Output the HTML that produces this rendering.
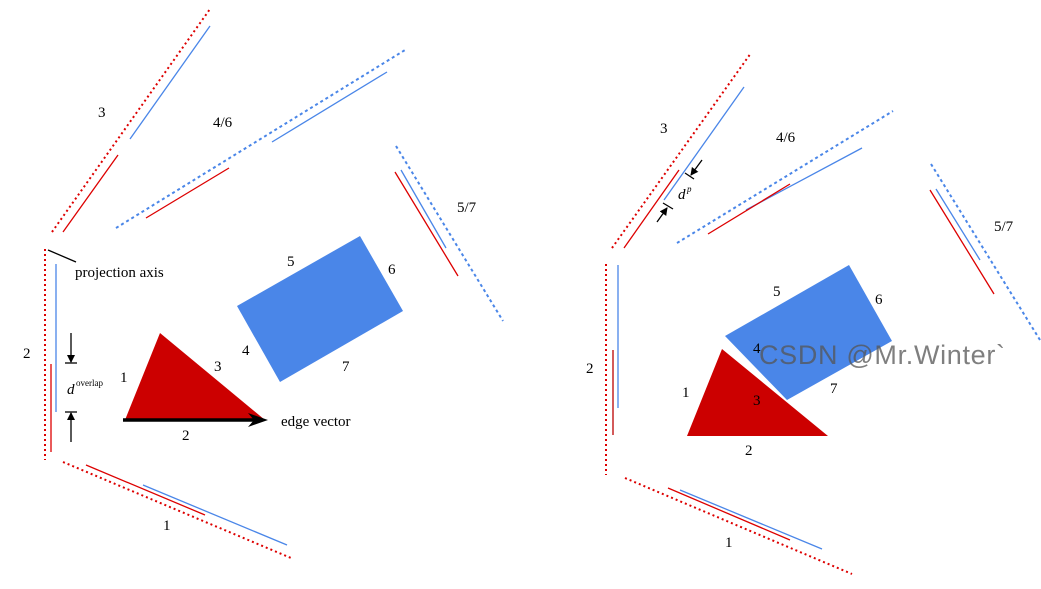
<!DOCTYPE html>
<html><head><style>
html,body{margin:0;padding:0;background:#fff;}
svg{display:block;}
text{font-family:"Liberation Serif",serif;font-size:15px;fill:#000;}
</style></head><body>
<svg width="1041" height="589" viewBox="0 0 1041 589" xmlns="http://www.w3.org/2000/svg">
<defs>
<marker id="ah" markerWidth="8" markerHeight="14" refX="7" refY="4" orient="auto" markerUnits="userSpaceOnUse"><path d="M0,0 L8,4 L0,8 Z" fill="#000"/></marker>
</defs>
<g fill="none" stroke-width="1.3">
<line x1="52" y1="232" x2="210" y2="9" stroke="#d00" stroke-width="2" stroke-dasharray="2,3"/>
<line x1="130" y1="139" x2="210" y2="26" stroke="#4a86e8"/>
<line x1="63" y1="232" x2="118" y2="155" stroke="#d00"/>
<line x1="116" y1="228" x2="405" y2="50" stroke="#4a86e8" stroke-width="2" stroke-dasharray="3,3"/>
<line x1="272" y1="142" x2="387" y2="72" stroke="#4a86e8"/>
<line x1="146" y1="218" x2="229" y2="168" stroke="#d00"/>
<line x1="396" y1="146" x2="503" y2="321" stroke="#4a86e8" stroke-width="2" stroke-dasharray="3,3"/>
<line x1="401" y1="170" x2="446" y2="248" stroke="#4a86e8"/>
<line x1="395" y1="172" x2="458" y2="276" stroke="#d00"/>
<line x1="45" y1="249" x2="45" y2="460" stroke="#d00" stroke-width="2" stroke-dasharray="2,3"/>
<line x1="56" y1="264" x2="56" y2="412" stroke="#4a86e8"/>
<line x1="51" y1="364" x2="51" y2="452" stroke="#d00"/>
<line x1="63" y1="462" x2="291" y2="558" stroke="#d00" stroke-width="2" stroke-dasharray="2,3"/>
<line x1="86" y1="465" x2="205" y2="515" stroke="#d00"/>
<line x1="143" y1="485" x2="287" y2="545" stroke="#4a86e8"/>
<line x1="48" y1="250" x2="76" y2="262" stroke="#000"/>
<line x1="71" y1="333" x2="71" y2="362" stroke="#000" marker-end="url(#ah)"/>
<line x1="65" y1="363" x2="77" y2="363" stroke="#000"/>
<line x1="71" y1="442" x2="71" y2="413" stroke="#000" marker-end="url(#ah)"/>
<line x1="65" y1="412" x2="77" y2="412" stroke="#000"/>
</g>
<polygon points="237,306 360,236 403,311 280,382" fill="#4a86e8"/>
<polygon points="125,420 160,333 265,420" fill="#cc0000"/>
<line x1="123" y1="420" x2="255" y2="420" stroke="#000" stroke-width="3.5"/>
<path d="M248,413 L268,420 L248,427 L254,420 Z" fill="#000"/>
<text x="98" y="117">3</text>
<text x="213" y="127">4/6</text>
<text x="457" y="212">5/7</text>
<text x="23" y="358">2</text>
<text x="163" y="530">1</text>
<text x="287" y="266">5</text>
<text x="388" y="274">6</text>
<text x="242" y="355">4</text>
<text x="342" y="371">7</text>
<text x="120" y="382">1</text>
<text x="214" y="371">3</text>
<text x="182" y="440">2</text>
<text x="281" y="426">edge vector</text>
<text x="75" y="277">projection axis</text>
<text x="67" y="394" font-style="italic">d</text><text x="76" y="386" style="font-size:9px">overlap</text>
<g fill="none" stroke-width="1.3">
<line x1="612" y1="248" x2="751" y2="53" stroke="#d00" stroke-width="2" stroke-dasharray="2,3"/>
<line x1="664" y1="200" x2="744" y2="87" stroke="#4a86e8"/>
<line x1="624" y1="248" x2="679" y2="170" stroke="#d00"/>
<line x1="677" y1="243" x2="893" y2="111" stroke="#4a86e8" stroke-width="2" stroke-dasharray="3,3"/>
<line x1="746" y1="210" x2="862" y2="148" stroke="#4a86e8"/>
<line x1="708" y1="234" x2="790" y2="184" stroke="#d00"/>
<line x1="931" y1="164" x2="1040" y2="340" stroke="#4a86e8" stroke-width="2" stroke-dasharray="3,3"/>
<line x1="936" y1="189" x2="980" y2="260" stroke="#4a86e8"/>
<line x1="930" y1="190" x2="994" y2="294" stroke="#d00"/>
<line x1="606" y1="264" x2="606" y2="475" stroke="#d00" stroke-width="2" stroke-dasharray="2,3"/>
<line x1="618" y1="265" x2="618" y2="408" stroke="#4a86e8"/>
<line x1="613" y1="350" x2="613" y2="435" stroke="#b00"/>
<line x1="625" y1="478" x2="852" y2="574" stroke="#d00" stroke-width="2" stroke-dasharray="2,3"/>
<line x1="668" y1="488" x2="790" y2="540" stroke="#d00"/>
<line x1="680" y1="490" x2="822" y2="549" stroke="#4a86e8"/>
<line x1="702" y1="160" x2="691" y2="175" stroke="#000" marker-end="url(#ah)"/>
<line x1="685" y1="173" x2="694" y2="179" stroke="#000"/>
<line x1="657" y1="222" x2="667" y2="208" stroke="#000" marker-end="url(#ah)"/>
<line x1="663" y1="203" x2="673" y2="209" stroke="#000"/>
</g>
<polygon points="725,336 849,265 892,341 787,400" fill="#4a86e8"/>
<polygon points="687,436 722,349 828,436" fill="#cc0000"/>
<text x="660" y="133">3</text>
<text x="776" y="142">4/6</text>
<text x="994" y="231">5/7</text>
<text x="586" y="373">2</text>
<text x="725" y="547">1</text>
<text x="773" y="296">5</text>
<text x="875" y="304">6</text>
<text x="753" y="353">4</text>
<text x="830" y="393">7</text>
<text x="682" y="397">1</text>
<text x="753" y="405">3</text>
<text x="745" y="455">2</text>
<text x="678" y="199" font-style="italic">d</text><text x="687" y="192" style="font-size:9px;font-style:italic">p</text>
<text x="759" y="364" textLength="246" style="font-family:'Liberation Sans',sans-serif;font-size:27px;fill:#555;opacity:0.75">CSDN @Mr.Winter`</text>
</svg>
</body></html>
